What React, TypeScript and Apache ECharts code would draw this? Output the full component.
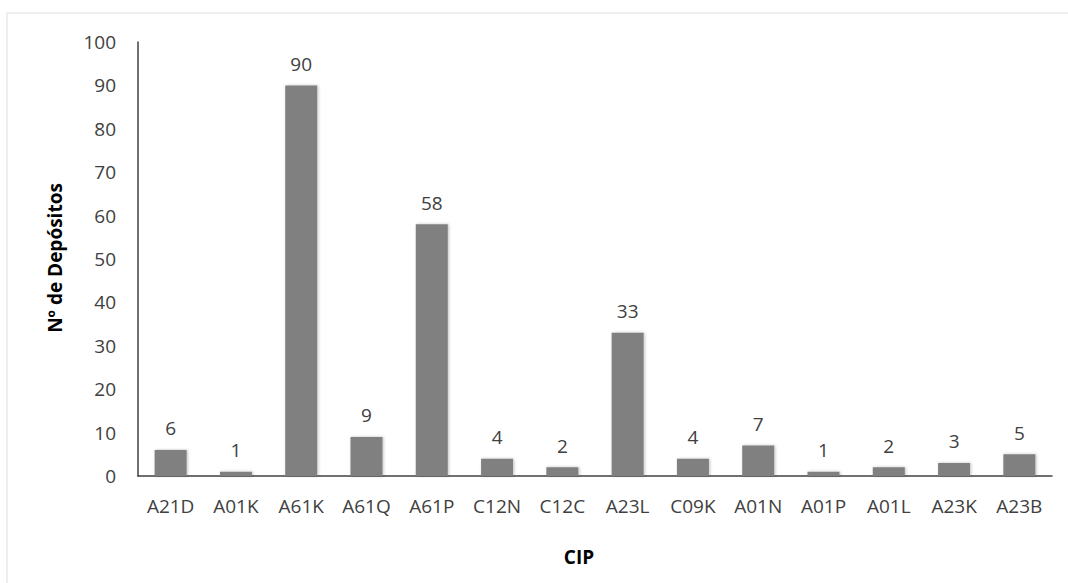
import React, { useEffect, useRef } from "react";
import * as echarts from "echarts";

const categories = ["A21D", "A01K", "A61K", "A61Q", "A61P", "C12N", "C12C", "A23L", "C09K", "A01N", "A01P", "A01L", "A23K", "A23B"];
const depositos = [6, 1, 90, 9, 58, 4, 2, 33, 4, 7, 1, 2, 3, 5];
const yTicks = { min: 0, max: 100, interval: 10 };

const FONT = "'Open Sans', 'Liberation Sans', sans-serif";

export default function App() {
  const ref = useRef<HTMLDivElement>(null);

  useEffect(() => {
    if (!ref.current) return;
    const chart = echarts.init(ref.current, undefined, { renderer: "svg" });
    chart.setOption({
      animation: false,
      backgroundColor: "#ffffff",
      grid: { left: 138, right: 16, top: 42, bottom: 107, containLabel: false },
      xAxis: {
        type: "category",
        data: categories,
        axisLine: { show: true, lineStyle: { color: "#404040", width: 1.5 } },
        axisTick: { show: false },
        axisLabel: { color: "#404040", fontFamily: FONT, fontSize: 19, margin: 20 },
      },
      yAxis: {
        type: "value",
        min: yTicks.min,
        max: yTicks.max,
        interval: yTicks.interval,
        axisLine: { show: true, lineStyle: { color: "#404040", width: 1.5 } },
        axisTick: { show: false },
        splitLine: { show: false },
        axisLabel: { color: "#404040", fontFamily: FONT, fontSize: 19, margin: 22 },
      },
      graphic: [
        {
          type: "rect",
          silent: true,
          shape: { x: 7, y: 13, width: 1100, height: 620 },
          style: { fill: "none", stroke: "#eeeeee", lineWidth: 2 },
        },
        {
          type: "text",
          x: 55,
          y: 258,
          rotation: Math.PI / 2,
          style: {
            text: "Nº de Depósitos",
            fill: "#000000",
            font: `bold 19px ${FONT}`,
            align: "center",
            verticalAlign: "middle",
          },
        },
        {
          type: "text",
          x: 579,
          y: 557,
          style: {
            text: "CIP",
            fill: "#000000",
            font: `bold 19px ${FONT}`,
            align: "center",
            verticalAlign: "middle",
          },
        },
      ],
      series: [
        {
          type: "bar",
          data: depositos,
          barWidth: 32,
          itemStyle: {
            color: "#808080",
            shadowColor: "rgba(0,0,0,0.25)",
            shadowBlur: 3,
            shadowOffsetX: 1,
            shadowOffsetY: 0,
          },
          label: {
            show: true,
            position: "top",
            distance: 12,
            color: "#404040",
            fontFamily: FONT,
            fontSize: 19,
          },
        },
      ],
    });
    return () => chart.dispose();
  }, []);

  return (
    <div
      ref={ref}
      style={{ position: "fixed", left: 0, top: 0, width: 1068, height: 583 }}
    />
  );
}
